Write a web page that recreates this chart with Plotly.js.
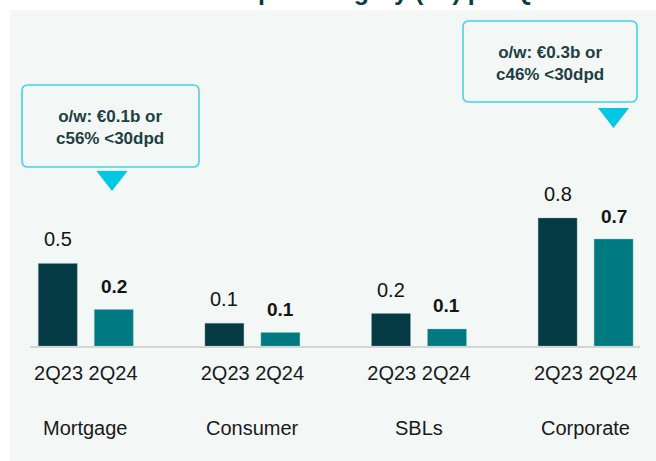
<!DOCTYPE html>
<html>
<head>
<meta charset="utf-8">
<script src="https://cdn.plot.ly/plotly-3.0.1.min.js"></script>
<style>
  html, body { margin: 0; padding: 0; background: #ffffff; }
  #chart { width: 656px; height: 461px; }
</style>
</head>
<body>
<div id="chart"></div>
<script>
// ---- data ----
const categories = ['Mortgage', 'Consumer', 'SBLs', 'Corporate'];
const periods = ['2Q23', '2Q24'];
const values2Q23 = [0.51, 0.14, 0.20, 0.79];
const values2Q24 = [0.225, 0.083, 0.105, 0.66];
const labels2Q23 = ['0.5', '0.1', '0.2', '0.8'];
const labels2Q24 = ['0.2', '0.1', '0.1', '0.7'];
const calloutTexts = ['o/w: €0.1b or<br>c56% &lt;30dpd', 'o/w: €0.3b or<br>c46% &lt;30dpd'];
const titleText = 'Arrears per category (€b) per Quarter';

// ---- style ----
const W = 656, H = 461;
const M = { l: 30, r: 16, t: 184, b: 115 };
const plotW = W - M.l - M.r, plotH = H - M.t - M.b;
const BARGAP = 0.328, BARGROUPGAP = 0.304;
const DARK = '#033a43', TEAL = '#007a81';
const PANEL = '#f3f7f5', CYAN_LINE = '#3fd6ec', CYAN_FILL = '#00c8e2';
const FONT = 'Liberation Sans, Arial, sans-serif';

// pixel -> paper helpers (for decorative shapes only)
const px = x => (x - M.l) / plotW;
const py = y => (H - M.b - y) / plotH;

function roundRect(x0, y0, x1, y1, r) {
  const X = v => px(v).toFixed(5), Y = v => py(v).toFixed(5);
  return 'M' + X(x0 + r) + ',' + Y(y0) +
    ' L' + X(x1 - r) + ',' + Y(y0) +
    ' Q' + X(x1) + ',' + Y(y0) + ' ' + X(x1) + ',' + Y(y0 + r) +
    ' L' + X(x1) + ',' + Y(y1 - r) +
    ' Q' + X(x1) + ',' + Y(y1) + ' ' + X(x1 - r) + ',' + Y(y1) +
    ' L' + X(x0 + r) + ',' + Y(y1) +
    ' Q' + X(x0) + ',' + Y(y1) + ' ' + X(x0) + ',' + Y(y1 - r) +
    ' L' + X(x0) + ',' + Y(y0 + r) +
    ' Q' + X(x0) + ',' + Y(y0) + ' ' + X(x0 + r) + ',' + Y(y0) + ' Z';
}
function tri(x0, x1, y0, y1) {
  const xm = (x0 + x1) / 2;
  return 'M' + px(x0) + ',' + py(y0) + ' L' + px(x1) + ',' + py(y0) + ' L' + px(xm) + ',' + py(y1) + ' Z';
}

const traces = [
  { type: 'bar', name: periods[0], x: categories, y: values2Q23,
    marker: { color: DARK, line: { color: 'rgba(140,170,175,0.6)', width: 0.6 } }, hoverinfo: 'skip' },
  { type: 'bar', name: periods[1], x: categories, y: values2Q24,
    marker: { color: TEAL, line: { color: 'rgba(140,190,195,0.6)', width: 0.6 } }, hoverinfo: 'skip' }
];

const offset = (1 - BARGAP) / 4;
const annotations = [];
categories.forEach((c, i) => {
  annotations.push({ x: i - offset, y: values2Q23[i], xref: 'x', yref: 'y', text: labels2Q23[i],
    showarrow: false, yanchor: 'middle', yshift: 24, font: { family: FONT, size: 20, color: '#141414' } });
  annotations.push({ x: i + offset, y: values2Q24[i], xref: 'x', yref: 'y', text: '<b>' + labels2Q24[i] + '</b>',
    showarrow: false, yanchor: 'middle', yshift: 23, font: { family: FONT, size: 19, color: '#141414' } });
  annotations.push({ x: i, y: py(428), xref: 'x', yref: 'paper', text: c, showarrow: false,
    yanchor: 'middle', font: { family: FONT, size: 20, color: '#1a1a1a' } });
});
// callout texts
annotations.push({ x: px(110), y: py(127.5), xref: 'paper', yref: 'paper', text: '<b>' + calloutTexts[0] + '</b>',
  showarrow: false, xanchor: 'center', yanchor: 'middle', align: 'center',
  font: { family: FONT, size: 17, color: '#1d3f45' } });
annotations.push({ x: px(550), y: py(63.5), xref: 'paper', yref: 'paper', text: '<b>' + calloutTexts[1] + '</b>',
  showarrow: false, xanchor: 'center', yanchor: 'middle', align: 'center',
  font: { family: FONT, size: 17, color: '#1d3f45' } });
// title (cut off at the top edge, as in the reference)
annotations.push({ x: px(160), y: py(7), xref: 'paper', yref: 'paper', text: '<b>' + titleText + '</b>',
  showarrow: false, xanchor: 'left', yanchor: 'bottom', font: { family: FONT, size: 25, color: '#0b3b43' } });

const shapes = [
  { type: 'rect', xref: 'paper', yref: 'paper', x0: px(10), x1: px(W + 2), y0: py(H + 2), y1: py(10),
    fillcolor: PANEL, line: { width: 0 }, layer: 'below' },
  { type: 'path', xref: 'paper', yref: 'paper', path: roundRect(22, 85, 199, 167, 6),
    fillcolor: PANEL, line: { color: CYAN_LINE, width: 1.6 }, layer: 'above' },
  { type: 'path', xref: 'paper', yref: 'paper', path: tri(96.5, 127.5, 171, 191),
    fillcolor: CYAN_FILL, line: { width: 0 } },
  { type: 'path', xref: 'paper', yref: 'paper', path: roundRect(463, 21, 637, 102, 6),
    fillcolor: PANEL, line: { color: CYAN_LINE, width: 1.6 }, layer: 'above' },
  { type: 'path', xref: 'paper', yref: 'paper', path: tri(598, 629, 108, 128),
    fillcolor: CYAN_FILL, line: { width: 0 } }
];

const x0 = -(85.8 - M.l) / 166.6;
const layout = {
  width: W, height: H,
  margin: M,
  paper_bgcolor: '#ffffff',
  plot_bgcolor: 'rgba(0,0,0,0)',
  showlegend: false,
  barmode: 'group',
  bargap: BARGAP,
  bargroupgap: BARGROUPGAP,
  xaxis: {
    type: 'category',
    range: [x0, x0 + plotW / 166.6],
    tickvals: categories,
    ticktext: categories.map(() => periods.join(' ')),
    ticks: '', ticklabelstandoff: 8,
    showline: true, linecolor: '#d2d6d4', linewidth: 1.5,
    showgrid: false, zeroline: false, fixedrange: true,
    tickfont: { family: FONT, size: 20, color: '#1a1a1a' }
  },
  yaxis: {
    range: [0, 1.0], visible: false, showgrid: false, zeroline: false, fixedrange: true
  },
  annotations: annotations,
  shapes: shapes
};

Plotly.newPlot('chart', traces, layout, { displayModeBar: false, staticPlot: true });
</script>
</body>
</html>
